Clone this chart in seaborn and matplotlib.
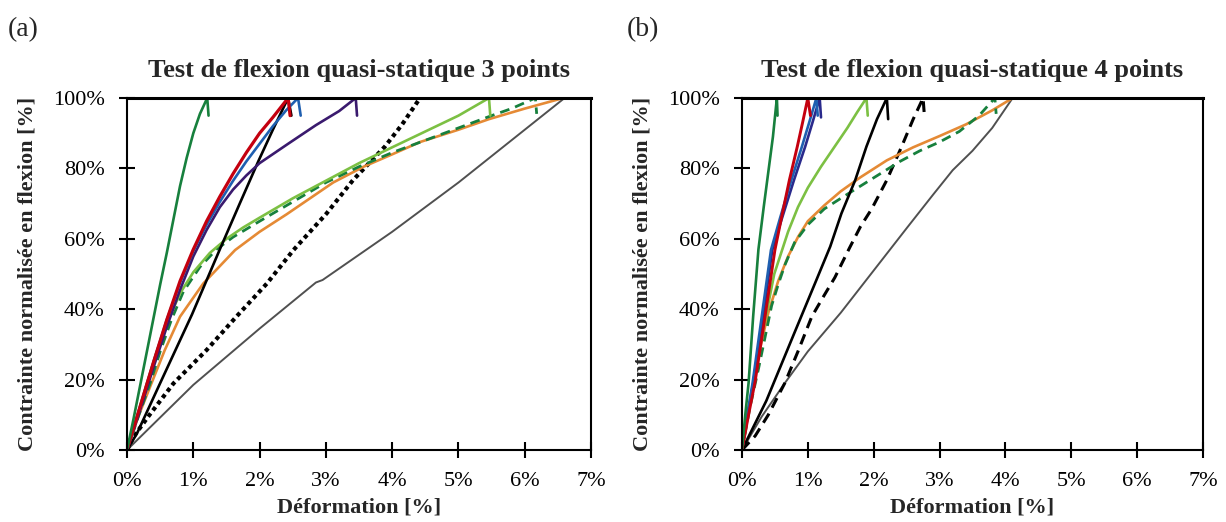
import matplotlib
matplotlib.use("Agg")
import matplotlib.pyplot as plt
import seaborn as sns
import pandas as pd
from matplotlib.ticker import FuncFormatter

# ---------------- data: panel (a) 3-point bending ----------------
a_green_x = [0, 0.1, 0.2, 0.3, 0.4, 0.5, 0.6, 0.7, 0.8, 0.9, 1.0, 1.1, 1.21, 1.23]
a_green_y = [0, 9, 18.5, 28, 37.5, 47, 56, 65.5, 75, 83, 90, 95.5, 100, 95]
a_red_x = [0, 0.2, 0.4, 0.6, 0.8, 1.0, 1.2, 1.4, 1.6, 1.8, 2.0, 2.2, 2.43, 2.46]
a_red_y = [0, 12.5, 25, 37, 48, 57, 65, 72, 78.5, 84.5, 90, 94.5, 100, 95]
a_blue_x = [0, 0.2, 0.4, 0.6, 0.8, 1.0, 1.2, 1.4, 1.6, 1.8, 2.0, 2.2, 2.4, 2.58, 2.62]
a_blue_y = [0, 12.5, 25, 37, 47.5, 56.5, 64, 70.5, 76.5, 82, 87, 92, 96.5, 100, 95]
a_purple_x = [0, 0.2, 0.4, 0.6, 0.8, 1.0, 1.2, 1.4, 1.6, 1.8, 2.0, 2.43, 2.85, 3.2, 3.45, 3.47]
a_purple_y = [0, 11.5, 23.5, 35, 45.5, 55, 62.5, 69, 74, 78, 81.5, 87, 92.3, 96.3, 100, 95]
a_black_x = [0, 0.15, 0.5, 0.98, 1.4, 1.7, 1.98, 2.2, 2.43, 2.48]
a_black_y = [0, 4.7, 19, 38.5, 57, 70, 82, 91, 100, 95]
a_dotted_x = [0, 0.1, 0.32, 0.7, 1.2, 1.65, 2.11, 2.51, 3.01, 3.41, 3.89, 4.15, 4.42]
a_dotted_y = [0, 3.8, 9.5, 18.9, 28.4, 37.9, 47.3, 56.8, 67.2, 76.7, 86.2, 92.5, 100]
a_lgreen_x = [0, 0.15, 0.3, 0.45, 0.6, 0.8, 1.0, 1.25, 1.5, 1.75, 2.0, 2.5, 3.0, 3.5, 4.0, 4.5, 5.0, 5.46, 5.48]
a_lgreen_y = [0, 9.5, 19, 28, 36, 44.5, 50.5, 56, 60, 63.2, 66, 71.5, 76.5, 81.5, 86, 90.5, 95, 100, 95]
a_dgreen_x = [0, 0.18, 0.35, 0.5, 0.67, 0.85, 1.1, 1.35, 1.6, 2.0, 2.5, 3.0, 3.5, 4.0, 4.5, 5.0, 5.5, 5.8, 6.16, 6.18]
a_dgreen_y = [0, 10, 19, 28, 37, 45, 52, 57, 60.5, 65, 70.5, 76, 80.5, 84.5, 88, 91.5, 95, 97, 100, 95.5]
a_orange_x = [0, 0.17, 0.37, 0.57, 0.8, 1.15, 1.63, 2.0, 2.41, 3.11, 3.57, 4.0, 4.42, 5.0, 5.46, 6.0, 6.58]
a_orange_y = [0, 9.5, 19, 28.4, 37.9, 47.3, 56.8, 62, 67, 76, 80.5, 84, 87.5, 91, 94, 97, 100]
a_gray_x = [0, 1.0, 2.0, 2.85, 2.95, 4.0, 5.0, 6.0, 6.6]
a_gray_y = [0, 18.5, 34.5, 47.6, 48.3, 62, 76, 91, 100]

# ---------------- data: panel (b) 4-point bending ----------------
b_green_x = [0, 0.05, 0.1, 0.17, 0.25, 0.33, 0.40, 0.47, 0.53, 0.54]
b_green_y = [0, 10, 19, 38, 57, 69, 79, 89, 100, 95]
b_red_x = [0, 0.1, 0.2, 0.35, 0.5, 0.6, 0.72, 0.84, 0.92, 1.0, 1.04]
b_red_y = [0, 10, 19.5, 37.9, 56.8, 66, 76.7, 86.2, 93, 100, 95]
b_blue_x = [0, 0.08, 0.16, 0.30, 0.44, 0.58, 0.75, 0.91, 1.02, 1.13, 1.15]
b_blue_y = [0, 10, 18.9, 37.9, 56.8, 66, 76.7, 86.2, 93, 100, 95]
b_navy_x = [0, 0.09, 0.17, 0.32, 0.46, 0.61, 0.79, 0.96, 1.07, 1.18, 1.20]
b_navy_y = [0, 10, 18.9, 37.9, 56.8, 66, 76.7, 86.2, 93, 100, 94.5]
b_lgreen_x = [0, 0.15, 0.31, 0.49, 0.7, 0.85, 1.0, 1.2, 1.4, 1.6, 1.75, 1.89, 1.91]
b_lgreen_y = [0, 16, 33, 50, 62, 69, 74.5, 80.5, 86, 91.5, 96, 100, 95]
b_black_x = [0, 0.37, 0.79, 1.13, 1.34, 1.51, 1.72, 1.89, 2.05, 2.2, 2.22]
b_black_y = [0, 14, 33, 48.3, 57.8, 67.2, 76.7, 86.2, 94, 100, 94]
b_dashed_x = [0, 0.2, 0.4, 0.65, 0.85, 1.06, 1.25, 1.41, 1.63, 1.8, 1.97, 2.2, 2.42, 2.6, 2.75, 2.77]
b_dashed_y = [0, 4, 10, 19, 28, 37.9, 44, 49, 57.3, 63.5, 68.5, 76.7, 86, 94, 100, 95]
b_dgreen_x = [0, 0.12, 0.25, 0.35, 0.45, 0.55, 0.65, 0.8, 1.0, 1.25, 1.5, 1.8, 2.1, 2.4, 2.7, 3.0, 3.3, 3.6, 3.84, 3.86]
b_dgreen_y = [0, 12, 23, 32, 41, 47, 52.5, 59, 64, 68.5, 71.5, 75, 78.5, 82, 85, 87.5, 90.5, 95, 100, 95.5]
b_orange_x = [0, 0.1, 0.2, 0.3, 0.4, 0.55, 0.7, 0.85, 1.0, 1.25, 1.5, 1.8, 2.2, 2.6, 3.0, 3.4, 3.8, 4.11]
b_orange_y = [0, 12, 22, 31, 39, 48, 55, 60.5, 65, 69.5, 73.5, 77.5, 82.3, 86, 89.2, 92.5, 96.5, 100]
b_gray_x = [0, 0.3, 0.65, 1.0, 1.5, 2.0, 2.5, 2.9, 3.2, 3.5, 3.8, 4.11]
b_gray_y = [0, 9.5, 19, 28, 39, 51, 63, 72.5, 79.5, 85, 91.5, 100]

x_ticks = [0, 1, 2, 3, 4, 5, 6, 7]
y_ticks = [0, 20, 40, 60, 80, 100]
titles = ["Test de flexion quasi-statique 3 points", "Test de flexion quasi-statique 4 points"]
panel_labels = ["(a)", "(b)"]
xlabel = "Déformation [%]"
ylabel = "Contrainte normalisée en flexion [%]"

# ---------------- styles ----------------
C_GREEN = "#17803d"
C_RED = "#c4000f"
C_BLUE = "#1f5fb0"
C_NAVY = "#2a2a8c"
C_PURPLE = "#3a1a6e"
C_LGREEN = "#7cc043"
C_ORANGE = "#e58a35"
C_GRAY = "#505050"
C_BLACK = "#000000"

SOLID = dict(lw=1.9)
panel_a = [
    (a_gray_x, a_gray_y, dict(color=C_GRAY, lw=1.4)),
    (a_dotted_x, a_dotted_y, dict(color=C_BLACK, lw=3.0, dashes=(1.0, 0.9))),
    (a_orange_x, a_orange_y, dict(color=C_ORANGE, **SOLID)),
    (a_dgreen_x, a_dgreen_y, dict(color=C_GREEN, lw=2.0, dashes=(3.5, 2.2))),
    (a_lgreen_x, a_lgreen_y, dict(color=C_LGREEN, **SOLID)),
    (a_black_x, a_black_y, dict(color=C_BLACK, **SOLID)),
    (a_purple_x, a_purple_y, dict(color=C_PURPLE, **SOLID)),
    (a_blue_x, a_blue_y, dict(color=C_BLUE, **SOLID)),
    (a_red_x, a_red_y, dict(color=C_RED, lw=2.3)),
    (a_green_x, a_green_y, dict(color=C_GREEN, **SOLID)),
]
panel_b = [
    (b_gray_x, b_gray_y, dict(color=C_GRAY, lw=1.4)),
    (b_dashed_x, b_dashed_y, dict(color=C_BLACK, lw=2.2, dashes=(3.5, 2.2))),
    (b_orange_x, b_orange_y, dict(color=C_ORANGE, **SOLID)),
    (b_dgreen_x, b_dgreen_y, dict(color=C_GREEN, lw=2.0, dashes=(3.5, 2.2))),
    (b_black_x, b_black_y, dict(color=C_BLACK, **SOLID)),
    (b_lgreen_x, b_lgreen_y, dict(color=C_LGREEN, **SOLID)),
    (b_navy_x, b_navy_y, dict(color=C_NAVY, **SOLID)),
    (b_blue_x, b_blue_y, dict(color=C_BLUE, **SOLID)),
    (b_red_x, b_red_y, dict(color=C_RED, lw=2.1)),
    (b_green_x, b_green_y, dict(color=C_GREEN, **SOLID)),
]

sns.set_theme(style="white")
plt.rcParams["font.family"] = ["Liberation Serif", "DejaVu Serif"]

fig = plt.figure(figsize=(12.26, 5.22), dpi=100)
axes = [fig.add_axes([0.1036, 0.1379, 0.3785, 0.6743]),
        fig.add_axes([0.6052, 0.1379, 0.3760, 0.6743])]

for ax, curves, title in zip(axes, [panel_a, panel_b], titles):
    for xs, ys, st in curves:
        df = pd.DataFrame({"x": xs, "y": ys})
        st = dict(st)
        dashes = st.pop("dashes", None)
        line = sns.lineplot(data=df, x="x", y="y", ax=ax, sort=False, estimator=None,
                            legend=False, **st)
        ln = line.lines[-1]
        ln.set_solid_joinstyle("round")
        if dashes is not None:
            ln.set_dashes(dashes)
            ln.set_dash_capstyle("butt")
    ax.set_xlim(0, 7)
    ax.set_ylim(0, 100)
    ax.set_xticks(x_ticks)
    ax.set_yticks(y_ticks)
    ax.xaxis.set_major_formatter(FuncFormatter(lambda v, p: f"{v:.0f}%"))
    ax.yaxis.set_major_formatter(FuncFormatter(lambda v, p: f"{v:.0f}%"))
    ax.tick_params(axis="both", direction="inout", length=11, width=1.5, colors="black",
                   labelsize=16)
    ax.tick_params(axis="y", pad=10.5)
    ax.tick_params(axis="x", pad=10)
    ax.tick_params(left=True, bottom=True)
    for s in ["left", "bottom", "right"]:
        ax.spines[s].set_visible(True)
        ax.spines[s].set_color("black")
        ax.spines[s].set_linewidth(1.5)
    ax.spines["top"].set_visible(True)
    ax.spines["top"].set_color("black")
    ax.spines["top"].set_linewidth(2.2)
    ax.set_xlabel(xlabel, fontsize=16, fontweight="bold", labelpad=5)
    ax.set_ylabel(ylabel, fontsize=16, fontweight="bold", labelpad=11)
    ax.set_title(title, fontsize=19, fontweight="bold", pad=15)
    ax.grid(False)

fig.text(0.006, 0.968, panel_labels[0], fontsize=20, va="top", ha="left")
fig.text(0.511, 0.968, panel_labels[1], fontsize=20, va="top", ha="left")

fig.savefig("out.png", dpi=100, facecolor="white")
